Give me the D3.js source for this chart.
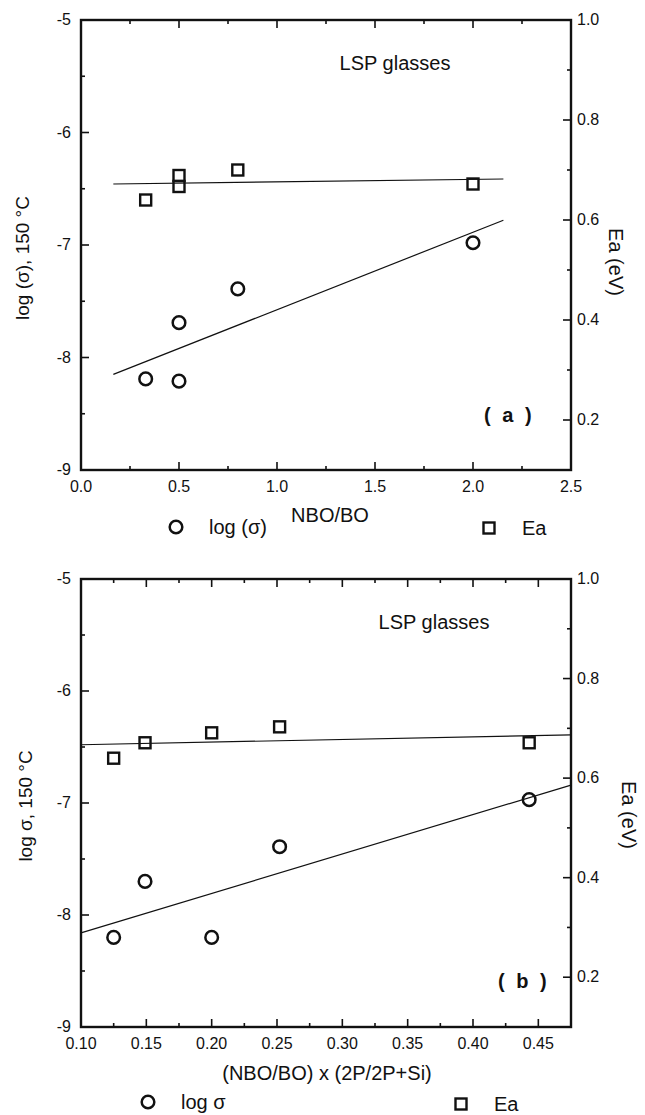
<!DOCTYPE html>
<html>
<head>
<meta charset="utf-8">
<script src="https://cdn.jsdelivr.net/npm/d3@7"></script>
<style>
  body { margin: 0; background: #fff; }
  text { font-family: "Liberation Sans", Arial, sans-serif; fill: #111; }
</style>
</head>
<body>
<div id="chart"></div>
<script>

// panel (a): NBO/BO
var xA      = [0.33, 0.5, 0.5, 0.8, 2.0]
var sigmaA  = [-8.19, -8.21, -7.69, -7.39, -6.98]
var eaA     = [0.64, 0.689, 0.667, 0.70, 0.672]
var fitXA     = [0.165, 2.155]
var fitSigmaA = [-8.15, -6.78]
var fitEaA    = [0.672, 0.682]
var xTicksA = [0.0, 0.5, 1.0, 1.5, 2.0, 2.5]

// panel (b): (NBO/BO) x (2P/2P+Si)
var xB      = [0.125, 0.149, 0.20, 0.252, 0.443]
var sigmaB  = [-8.20, -7.70, -8.20, -7.39, -6.97]
var eaB     = [0.640, 0.671, 0.691, 0.703, 0.671]
var fitXB     = [0.10, 0.475]
var fitSigmaB = [-8.16, -6.84]
var fitEaB    = [0.667, 0.687]
var xTicksB = [0.10, 0.15, 0.20, 0.25, 0.30, 0.35, 0.40, 0.45]

var yTicksLeft  = [-9, -8, -7, -6, -5]
var yTicksRight = [0.2, 0.4, 0.6, 0.8, 1.0]

let svg = d3.select('#chart')
    .append('svg')
    .attr('width', 645)
    .attr('height', 1115)

function drawPanel(p) {
    let g = svg.append('g')

    let x  = d3.scaleLinear().domain(p.xDomain).range([p.left, p.right])
    let yL = d3.scaleLinear().domain([-9, -5]).range([p.bottom, p.top])
    let yR = d3.scaleLinear().domain([0.1, 1.0]).range([p.bottom, p.top])

    // ticks, all pointing inward
    let xMinor = d3.range(p.xDomain[0], p.xDomain[1] + 1e-9, p.xStep / 2)
    xMinor.forEach((t, i) => {
        let len = i % 2 == 0 ? 8 : 4
        g.append('line').attr('x1', x(t)).attr('x2', x(t))
            .attr('y1', p.bottom).attr('y2', p.bottom - len)
            .attr('stroke', '#111').attr('stroke-width', 1.6)
        g.append('line').attr('x1', x(t)).attr('x2', x(t))
            .attr('y1', p.top).attr('y2', p.top + len)
            .attr('stroke', '#111').attr('stroke-width', 1.6)
    })
    d3.range(-9, -4.99, 0.5).forEach((t, i) => {
        let len = i % 2 == 0 ? 8 : 4
        g.append('line').attr('x1', p.left).attr('x2', p.left + len)
            .attr('y1', yL(t)).attr('y2', yL(t))
            .attr('stroke', '#111').attr('stroke-width', 1.6)
    })
    d3.range(0.1, 1.0001, 0.1).forEach((t, i) => {
        let len = i % 2 == 1 ? 8 : 4
        g.append('line').attr('x1', p.right).attr('x2', p.right - len)
            .attr('y1', yR(t)).attr('y2', yR(t))
            .attr('stroke', '#111').attr('stroke-width', 1.6)
    })

    // frame
    g.append('rect')
        .attr('x', p.left).attr('y', p.top)
        .attr('width', p.right - p.left).attr('height', p.bottom - p.top)
        .attr('fill', 'none').attr('stroke', '#111').attr('stroke-width', 2.4)

    // tick labels
    p.xTicks.forEach(t => {
        g.append('text').attr('x', x(t)).attr('y', p.bottom + 22)
            .attr('text-anchor', 'middle').attr('font-size', 16)
            .text(p.xFormat(t))
    })
    yTicksLeft.forEach(t => {
        g.append('text').attr('x', p.left - 10).attr('y', yL(t) + 5)
            .attr('text-anchor', 'end').attr('font-size', 16)
            .text(t)
    })
    yTicksRight.forEach(t => {
        g.append('text').attr('x', p.right + 6).attr('y', yR(t) + 5)
            .attr('font-size', 16)
            .text(d3.format('.1f')(t))
    })

    // fit lines
    g.append('path')
        .datum(d3.zip(p.fitX, p.fitSigma))
        .attr('fill', 'none').attr('stroke', '#111').attr('stroke-width', 1.2)
        .attr('d', d3.line().x(d => x(d[0])).y(d => yL(d[1])))
    g.append('path')
        .datum(d3.zip(p.fitX, p.fitEa))
        .attr('fill', 'none').attr('stroke', '#111').attr('stroke-width', 1.2)
        .attr('d', d3.line().x(d => x(d[0])).y(d => yR(d[1])))

    // data
    g.selectAll('circle.pt').data(d3.zip(p.xs, p.sigma)).enter()
        .append('circle').attr('class', 'pt')
        .attr('cx', d => x(d[0])).attr('cy', d => yL(d[1])).attr('r', 6.3)
        .attr('fill', 'none').attr('stroke', '#111').attr('stroke-width', 2.5)
    g.selectAll('rect.pt').data(d3.zip(p.xs, p.ea)).enter()
        .append('rect').attr('class', 'pt')
        .attr('x', d => x(d[0]) - 5.5).attr('y', d => yR(d[1]) - 5.5)
        .attr('width', 11).attr('height', 11)
        .attr('fill', 'none').attr('stroke', '#111').attr('stroke-width', 2.4)

    // texts
    g.append('text').attr('x', p.lspX).attr('y', p.top + 50)
        .attr('text-anchor', 'middle').attr('font-size', 20)
        .text('LSP glasses')
    g.append('text').attr('x', p.tagX).attr('y', p.tagY)
        .attr('font-size', 20).attr('font-weight', 'bold')
        .attr('font-family', '"DejaVu Sans", sans-serif')
        .style('letter-spacing', '3px')
        .text(p.tag)

    g.append('text')
        .attr('transform', 'translate(' + p.yTitleX + ',' + p.yTitleY + ') rotate(-90)')
        .attr('text-anchor', 'middle').attr('font-size', 19)
        .text(p.yTitle)
    g.append('text')
        .attr('transform', 'translate(' + p.rTitleX + ',' + p.rTitleY + ') rotate(90)')
        .attr('text-anchor', 'middle').attr('font-size', 20)
        .text('Ea (eV)')

    g.append('text').attr('x', p.xTitleX).attr('y', p.xTitleY)
        .attr('text-anchor', 'middle').attr('font-size', 20)
        .text(p.xTitle)

    // legend
    g.append('circle').attr('cx', p.legC[0]).attr('cy', p.legC[1]).attr('r', 6.3)
        .attr('fill', 'none').attr('stroke', '#111').attr('stroke-width', 2.5)
    g.append('text').attr('x', p.legC[0] + 33).attr('y', p.legC[1] + 7)
        .attr('font-size', 20).text(p.legText)
    g.append('rect').attr('x', p.legS[0] - 5.5).attr('y', p.legS[1] - 5.5)
        .attr('width', 11).attr('height', 11)
        .attr('fill', 'none').attr('stroke', '#111').attr('stroke-width', 2.4)
    g.append('text').attr('x', p.legS[0] + 33).attr('y', p.legS[1] + 7)
        .attr('font-size', 20).text('Ea')
}

drawPanel({
    left: 81, right: 571, top: 20, bottom: 470,
    xDomain: [0, 2.5], xStep: 0.5, xTicks: xTicksA, xFormat: d3.format('.1f'),
    xs: xA, sigma: sigmaA, ea: eaA,
    fitX: fitXA, fitSigma: fitSigmaA, fitEa: fitEaA,
    lspX: 395, tag: '( a )', tagX: 484, tagY: 422,
    yTitle: 'log (σ), 150 °C', yTitleX: 29, yTitleY: 258,
    rTitleX: 609, rTitleY: 262,
    xTitle: 'NBO/BO', xTitleX: 330, xTitleY: 522,
    legC: [176, 527], legText: 'log (σ)', legS: [489, 528]
})

drawPanel({
    left: 81, right: 571, top: 579, bottom: 1027,
    xDomain: [0.10, 0.475], xStep: 0.05, xTicks: xTicksB, xFormat: d3.format('.2f'),
    xs: xB, sigma: sigmaB, ea: eaB,
    fitX: fitXB, fitSigma: fitSigmaB, fitEa: fitEaB,
    lspX: 434, tag: '( b )', tagX: 498, tagY: 988,
    yTitle: 'log σ, 150 °C', yTitleX: 32, yTitleY: 806,
    rTitleX: 622, rTitleY: 815,
    xTitle: '(NBO/BO) x (2P/2P+Si)', xTitleX: 327, xTitleY: 1080,
    legC: [148, 1102], legText: 'log σ', legS: [461, 1104]
})

</script>
</body>
</html>
